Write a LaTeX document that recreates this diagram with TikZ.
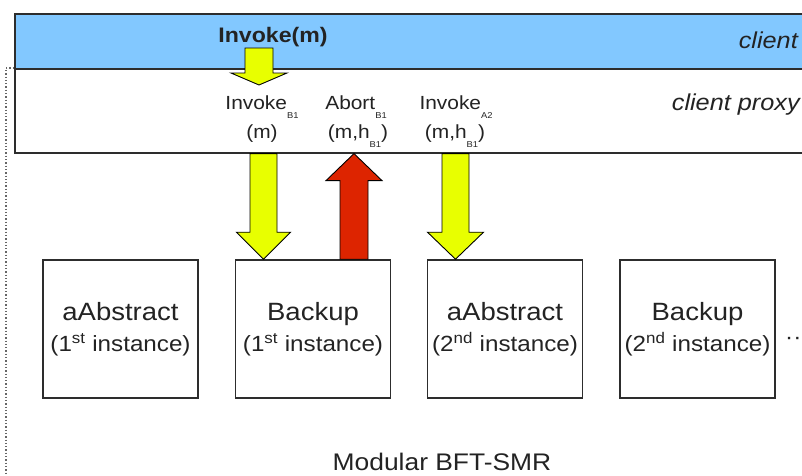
\documentclass[tikz,border=0pt]{standalone}
\usepackage{fontspec}
\setmainfont[FakeStretch=1.1]{Liberation Sans}
\usetikzlibrary{calc}
\definecolor{cblue}{RGB}{130,200,255}
\definecolor{cyellow}{RGB}{232,255,0}
\definecolor{cred}{RGB}{221,36,0}
\definecolor{cline}{RGB}{45,45,45}
\definecolor{ctext}{RGB}{35,35,35}
\newcommand\lsub[1]{\raisebox{-9.5pt}{\fontsize{8.5}{8.5}\selectfont #1}}
\newcommand\blockarrow[6]{%
  \coordinate (bbase) at ($(#3)!#6!(#2)$);
  \draw[#1] ($(#2)!#4!90:(#3)$) -- ($(bbase)!#4!90:(#3)$) -- ($(bbase)!#5!90:(#3)$)
    -- (#3) -- ($(bbase)!#5!-90:(#3)$) -- ($(bbase)!#4!-90:(#3)$) -- ($(#2)!#4!-90:(#3)$) -- cycle;}
\begin{document}
\begin{tikzpicture}[x=1pt,y=-1pt, every node/.style={text=ctext},
  layer/.style={draw=cline, line width=1.6pt, inner sep=0pt, anchor=north west},
  box/.style={draw=cline, line width=1.6pt, minimum width=155pt, minimum height=138pt,
    inner sep=0pt, align=center, font=\fontsize{22}{31}\selectfont},
  lbl/.style={font=\fontsize{19}{19}\selectfont, anchor=base, inner sep=0pt},
  ya/.style={fill=cyellow, draw=black, line width=0.9pt},
  ra/.style={fill=cred, draw=black, line width=0.9pt}]
\useasboundingbox (0,0) rectangle (802,475);
\clip (0,0) rectangle (802,475);
% layers
\node[layer, fill=cblue, minimum width=801pt, minimum height=55pt] (client) at (14,13) {};
\node[layer, fill=white, minimum width=801pt, minimum height=84pt] (proxy) at (14,68) {};
\draw[dotted, line width=1.3pt, black!60] (proxy.north west) -- (6,68) -- (6,480);
% layer labels
\node[font=\fontsize{23}{23}\selectfont\itshape, anchor=base east, inner sep=0pt] (lclient) at (798,48) {client};
\node[font=\fontsize{23}{23}\selectfont\itshape, anchor=base east, inner sep=0pt] (lproxy) at (800,110) {client proxy};
\node[font=\fontsize{21}{21}\selectfont\bfseries, anchor=base, inner sep=0pt] (inv) at (273,42) {Invoke(m)};
% proxy labels
\node[lbl] (i1a) at (262,109) {Invoke\lsub{B1}};
\node[lbl] (i1b) at (262,138) {(m)};
\node[lbl] (abA) at (356,109) {Abort\lsub{B1}};
\node[lbl] (abB) at (358,138) {(m,h\lsub{B1})};
\node[lbl] (i2a) at (456,109) {Invoke\lsub{A2}};
\node[lbl] (i2b) at (455,138) {(m,h\lsub{B1})};
% modules
\node[box] (b1) at (120.5,329) {{\fontsize{25}{31}\selectfont aAbstract}\\(1\textsuperscript{st} instance)};
\node[box] (b2) at (313,329) {{\fontsize{25}{31}\selectfont Backup}\\(1\textsuperscript{st} instance)};
\node[box] (b3) at (505,329) {{\fontsize{25}{31}\selectfont aAbstract}\\(2\textsuperscript{nd} instance)};
\node[box] (b4) at (697.5,329) {{\fontsize{25}{31}\selectfont Backup}\\(2\textsuperscript{nd} instance)};
\node[font=\fontsize{22}{22}\selectfont, anchor=west, inner sep=0pt] (dots) at (785,341) {··};
\node[font=\fontsize{24}{24}\selectfont, anchor=base, inner sep=0pt] (title) at (442,470) {Modular BFT-SMR};
% arrows
\coordinate (s0) at (259,48);
\coordinate (s1) at (259,85);
\blockarrow{ya}{s0}{s1}{14pt}{28pt}{12pt}
\coordinate (xa) at (263.5,0);
\coordinate (xr) at (354,0);
\coordinate (xb) at (455.5,0);
\blockarrow{ya}{xa |- proxy.south}{xa |- b2.north}{13.5pt}{27pt}{27pt}
\blockarrow{ra}{xr |- b2.north}{xr |- proxy.south}{14pt}{28pt}{27pt}
\blockarrow{ya}{xb |- proxy.south}{xb |- b3.north}{13.5pt}{28pt}{27pt}
\end{tikzpicture}
\end{document}
